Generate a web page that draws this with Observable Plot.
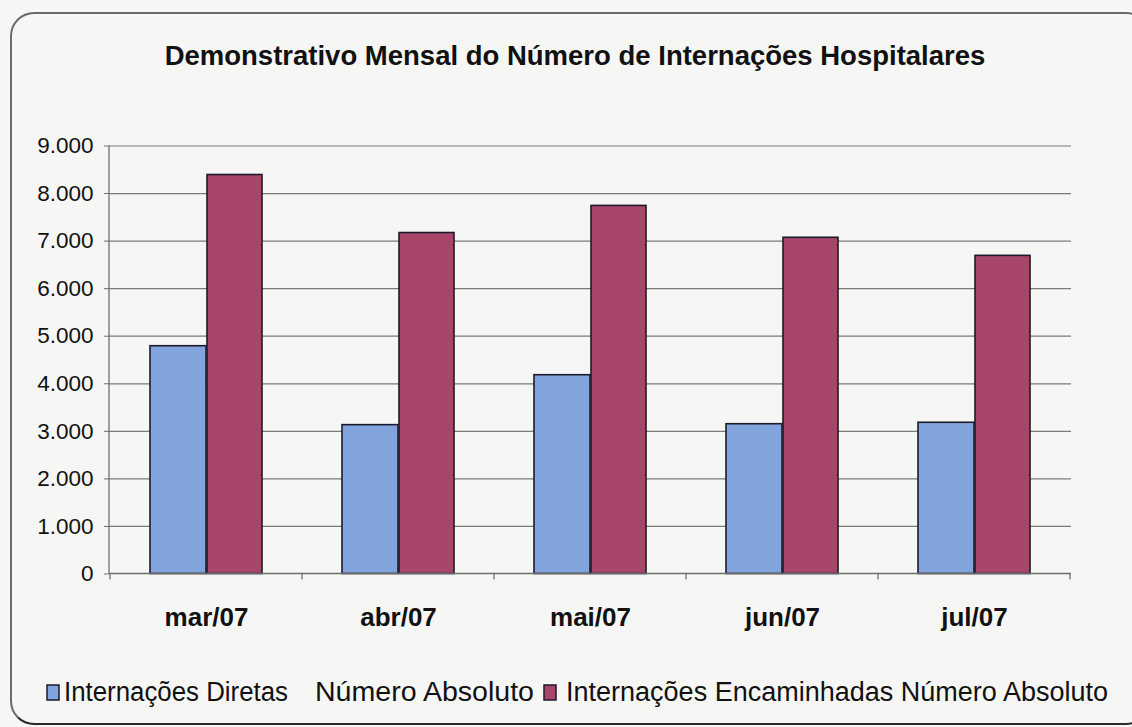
<!DOCTYPE html>
<html>
<head>
<meta charset="utf-8">
<script src="https://cdn.jsdelivr.net/npm/d3@7"></script>
<script src="https://cdn.jsdelivr.net/npm/@observablehq/plot@0.6"></script>
<style>
  html, body { margin: 0; padding: 0; background: #f6f6f4; }
  #chart { position: relative; width: 1132px; height: 727px; overflow: hidden; background: #f6f6f4; font-family: "Liberation Sans", Arial, sans-serif; }
  #frame { position: absolute; left: 10px; top: 12px; width: 1140px; height: 713px; border: 2px solid #6a6a6a; border-bottom-color: #2a2a2a; border-radius: 24px; box-sizing: border-box; }
  #title { position: absolute; left: 0; width: 1150px; top: 42px; text-align: center; font-weight: bold; font-size: 27.5px; color: #111; line-height: 27.5px; white-space: nowrap; }
  #plot { position: absolute; left: 0; top: 120px; }
  #legend { position: absolute; left: 0; top: 655px; }
</style>
</head>
<body>
<div id="chart">
  <div id="frame"></div>
  <div id="title"></div>
  <div id="plot"></div>
  <div id="legend"></div>
</div>
<script>
// ---- data ----
const title = "Demonstrativo Mensal do Número de Internações Hospitalares";
const months = ["mar/07", "abr/07", "mai/07", "jun/07", "jul/07"];
const seriesNames = ["Internações Diretas   Número Absoluto", "Internações Encaminhadas Número Absoluto"];
const legendParts = [["Internações Diretas", "Número Absoluto"], ["Internações Encaminhadas Número Absoluto"]];
const diretas = [4790, 3130, 4180, 3150, 3180];
const encaminhadas = [8390, 7170, 7740, 7070, 6690];
const yTicks = [0, 1000, 2000, 3000, 4000, 5000, 6000, 7000, 8000, 9000];
const colors = ["#82a4dc", "#a8456a"];

const rows = months.flatMap((m, i) => [
  {month: m, series: seriesNames[0], value: diretas[i]},
  {month: m, series: seriesNames[1], value: encaminhadas[i]}
]);

const fmt = d3.formatLocale({decimal: ",", thousands: ".", grouping: [3], currency: ["", ""]}).format(",");

document.getElementById("title").textContent = title;

const axisLines = (index, scales, values, dimensions) => {
  const x = scales.x;
  const left = dimensions.marginLeft;
  const right = dimensions.width - dimensions.marginRight;
  const bottom = dimensions.height - dimensions.marginBottom;
  const top = dimensions.marginTop;
  const g = d3.create("svg:g").attr("stroke", "#6e6e6e").attr("stroke-width", 1.3).attr("fill", "none");
  g.append("line").attr("x1", left).attr("x2", left).attr("y1", top).attr("y2", bottom);
  g.append("line").attr("x1", left).attr("x2", right).attr("y1", bottom).attr("y2", bottom);
  const bounds = months.map(m => x(m)).concat([x(months[months.length - 1]) + x.bandwidth()]);
  for (const b of bounds) g.append("line").attr("x1", b).attr("x2", b).attr("y1", bottom).attr("y2", bottom + 6);
  return g.node();
};

const chart = Plot.plot({
  width: 1132,
  height: 524,
  marginLeft: 109,
  marginRight: 61,
  marginTop: 25.5,
  marginBottom: 70.5,
  style: {background: "transparent", fontFamily: "'Liberation Sans', Arial, sans-serif", color: "#111"},
  x: {domain: months, padding: 0, label: null},
  y: {domain: [0, 9000], label: null},
  color: {domain: seriesNames, range: colors},
  marks: [
    Plot.gridY(yTicks.filter(d => d > 0), {stroke: "#7a7a7a", strokeOpacity: 1, strokeWidth: 1.2}),
    Plot.barY(rows.filter(d => d.series === seriesNames[0]), {x: "month", y: "value", fill: "series", stroke: "#1c1c2c", strokeWidth: 1.6, insetLeft: 40, insetRight: 96}),
    Plot.barY(rows.filter(d => d.series === seriesNames[1]), {x: "month", y: "value", fill: "series", stroke: "#1c1c2c", strokeWidth: 1.6, insetLeft: 97, insetRight: 40}),
    axisLines,
    Plot.axisY({ticks: yTicks, tickFormat: fmt, tickSize: 5, tickPadding: 11, fontSize: 22.5, stroke: "#6e6e6e", label: null}),
    Plot.axisX({tickSize: 0, tickPadding: 34, fontSize: 26, fontWeight: "bold", label: null})
  ]
});
document.getElementById("plot").appendChild(chart);

// legend (below the plot)
const legSvg = d3.create("svg").attr("width", 1132).attr("height", 64)
  .style("font-family", "'Liberation Sans', Arial, sans-serif");
const swatchX = [47, 544];
const textPos = [[[64, 224], [315, 219]], [[566, 542]]];
const baseline = 46;
legendParts.forEach((parts, i) => {
  legSvg.append("rect").attr("x", swatchX[i]).attr("y", 30).attr("width", 12).attr("height", 15)
    .attr("fill", colors[i]).attr("stroke", "#1a1a2a").attr("stroke-width", 1.5);
  parts.forEach((p, j) => {
    legSvg.append("text").attr("x", textPos[i][j][0]).attr("y", baseline)
      .attr("textLength", textPos[i][j][1]).attr("lengthAdjust", "spacingAndGlyphs")
      .attr("font-size", 27).attr("fill", "#111").text(p);
  });
});
document.getElementById("legend").appendChild(legSvg.node());
</script>
</body>
</html>
